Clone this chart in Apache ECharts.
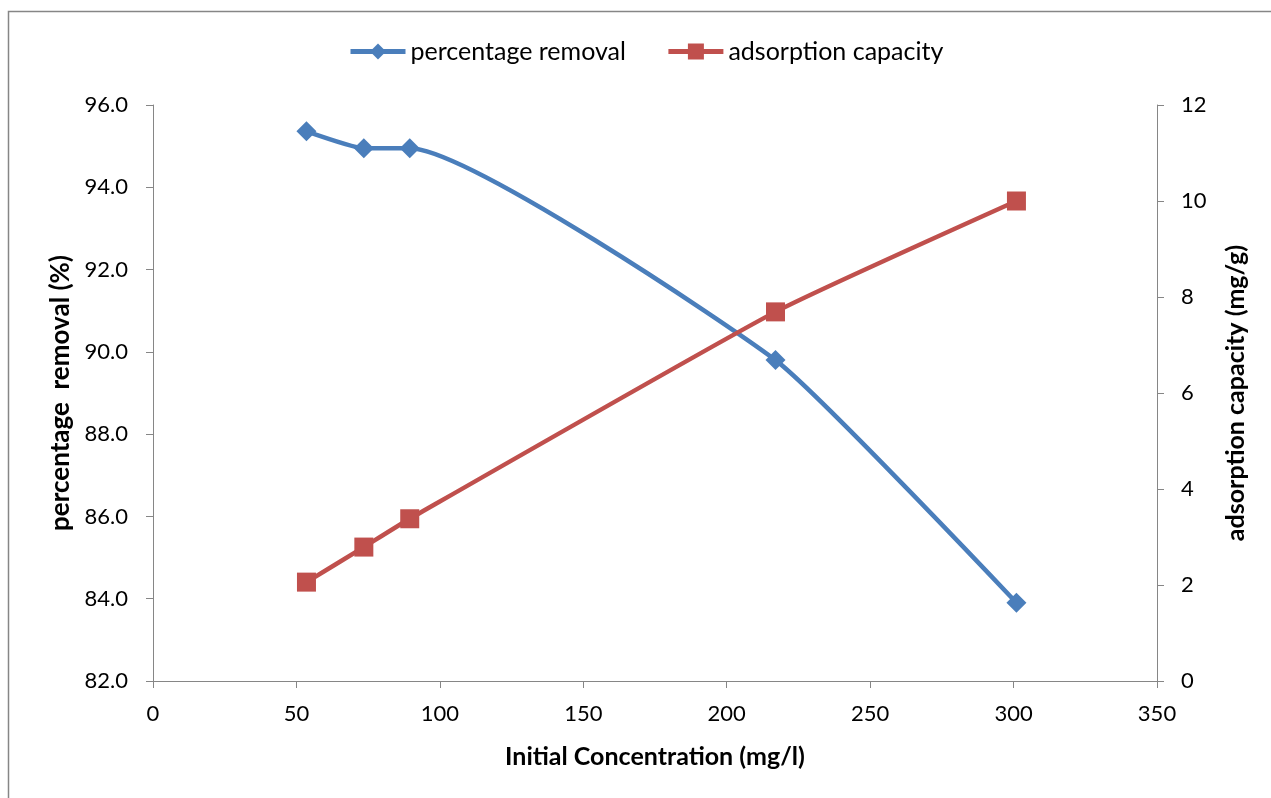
<!DOCTYPE html>
<html><head><meta charset="utf-8">
<script src="https://cdn.jsdelivr.net/npm/echarts@6/dist/echarts.min.js"></script>
<style>html,body{margin:0;padding:0;background:#fff}#c{width:1271px;height:798px}</style>
</head><body><div id="c"></div>
<script>
const concentration = [53.5, 73.5, 89.5, 217, 301];
const percentageRemoval = [95.36, 94.95, 94.95, 89.8, 83.9];
const adsorptionCapacity = [2.06, 2.79, 3.38, 7.69, 10.0];
const seriesNames = ['percentage removal', 'adsorption capacity'];
const axisTitles = ['Initial Concentration (mg/l)', 'percentage  removal (%)', 'adsorption capacity (mg/g)'];

const font = 'Lato, "Liberation Sans", sans-serif';
const chart = echarts.init(document.getElementById('c'), null, {renderer: 'canvas'});
const axisLine = {show: true, lineStyle: {color: '#868686', width: 1}};
const axisTick = {show: true, inside: false, length: 7, lineStyle: {color: '#868686'}};
const axisLabel = {color: '#000', fontSize: 22, fontFamily: font};
const nameStyle = {color: '#000', fontSize: 25, fontWeight: 'bold', fontFamily: font};
chart.setOption({
  animation: false,
  backgroundColor: '#fff',
  graphic: [{type: 'rect', shape: {x: 8.5, y: 11.5, width: 1400, height: 1000}, style: {fill: 'none', stroke: '#868686', lineWidth: 1.5}, z: -1}],
  legend: {
    top: 34, left: 343, itemWidth: 55, itemHeight: 20, itemGap: 40,
    textStyle: {color: '#000', fontSize: 25, fontFamily: font},
    lineStyle: {width: 5},
    data: seriesNames.map(n => ({name: n}))
  },
  grid: {left: 153, right: 114, top: 105, bottom: 117, containLabel: false},
  xAxis: {
    type: 'value', min: 0, max: 350, interval: 50,
    name: axisTitles[0], nameLocation: 'middle', nameGap: 63, nameTextStyle: nameStyle,
    axisLine, axisTick, axisLabel: Object.assign({margin: 22}, axisLabel), splitLine: {show: false}
  },
  yAxis: [{
    type: 'value', min: 82, max: 96, interval: 2, position: 'left',
    name: axisTitles[1], nameLocation: 'middle', nameRotate: 90, nameGap: 79, nameTextStyle: Object.assign({}, nameStyle, {fontSize: 26}),
    axisLine, axisTick, axisLabel: Object.assign({margin: 25, formatter: v => v.toFixed(1)}, axisLabel), splitLine: {show: false}
  }, {
    type: 'value', min: 0, max: 12, interval: 2, position: 'right',
    name: axisTitles[2], nameLocation: 'middle', nameRotate: 90, nameGap: 66, nameTextStyle: nameStyle,
    axisLine, axisTick, axisLabel: Object.assign({margin: 24}, axisLabel), splitLine: {show: false}
  }],
  series: [{
    name: seriesNames[0], type: 'line', yAxisIndex: 0, smooth: 0.15,
    data: concentration.map((x, i) => [x, percentageRemoval[i]]),
    symbol: 'diamond', symbolSize: 20,
    itemStyle: {color: '#4A7EBB'}, lineStyle: {color: '#4A7EBB', width: 4.5}
  }, {
    name: seriesNames[1], type: 'line', yAxisIndex: 1, smooth: 0.15,
    data: concentration.map((x, i) => [x, adsorptionCapacity[i]]),
    symbol: 'rect', symbolSize: 19,
    itemStyle: {color: '#C0504D'}, lineStyle: {color: '#C0504D', width: 4.5}
  }]
});
</script></body></html>
